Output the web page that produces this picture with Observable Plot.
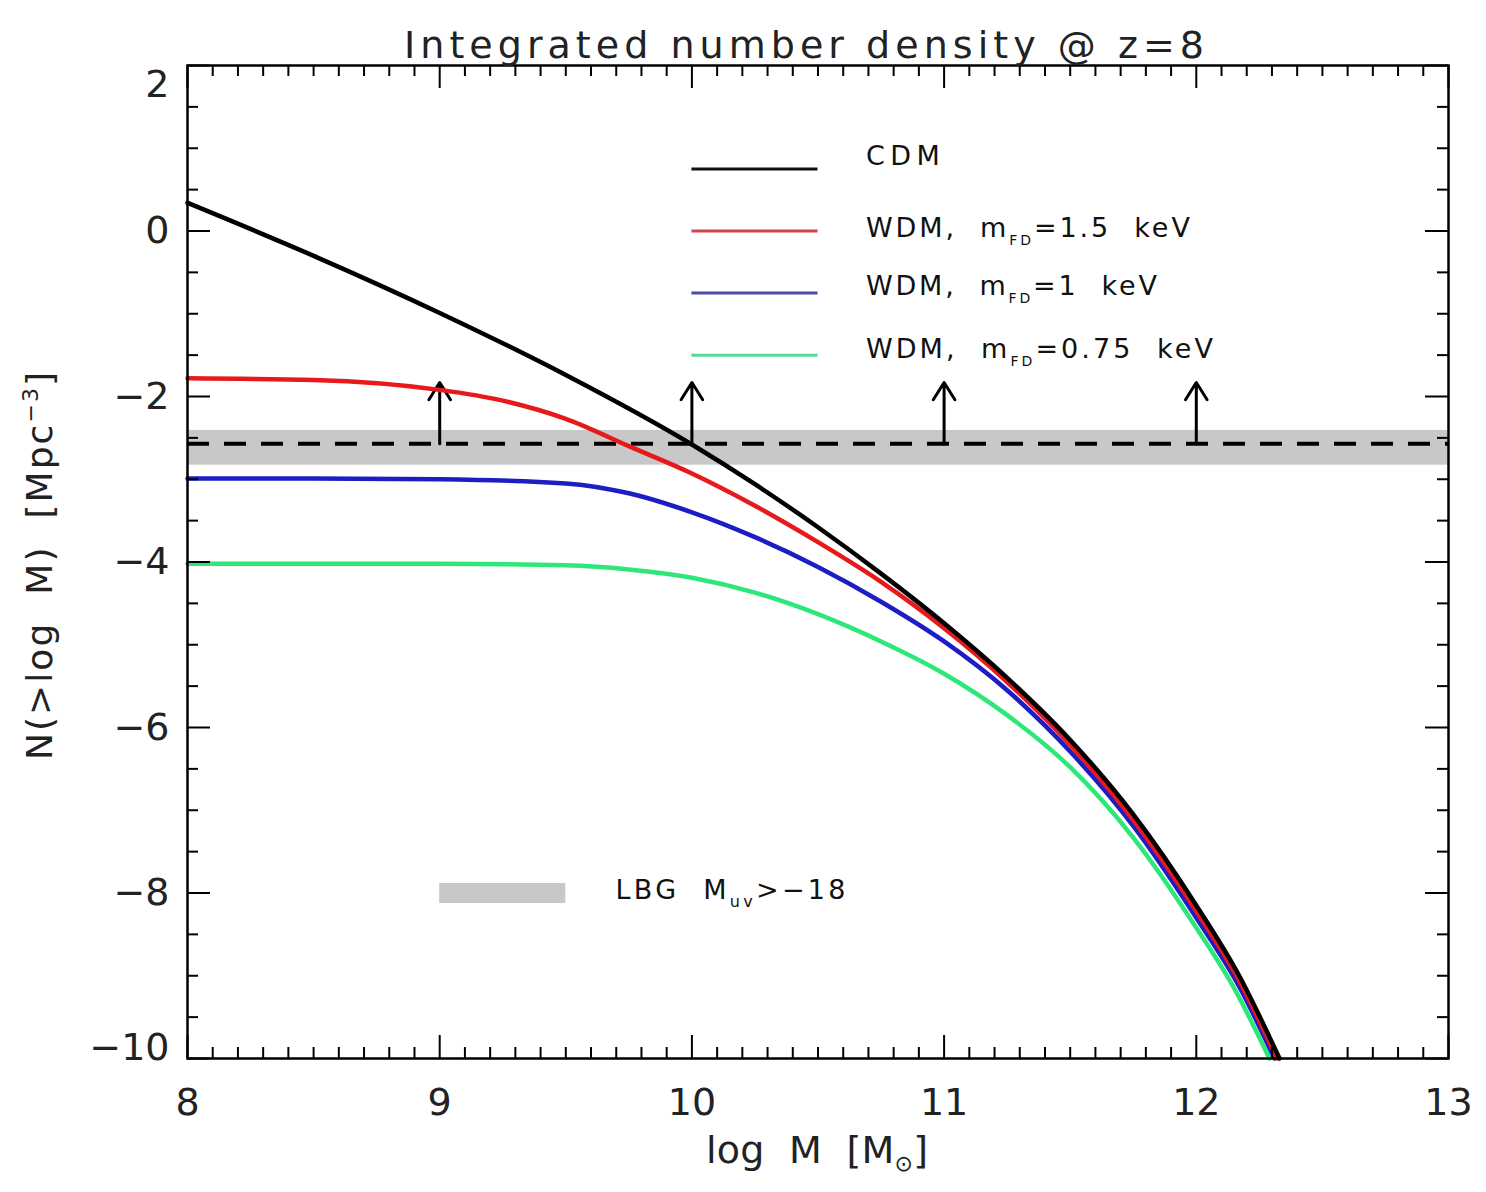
<!DOCTYPE html>
<html>
<head>
<meta charset="utf-8">
<script src="https://cdn.jsdelivr.net/npm/d3@7"></script>
<script src="https://cdn.jsdelivr.net/npm/@observablehq/plot@0.6"></script>
<style>
  body { margin: 0; background: #fff; }
  svg { display: block; }
</style>
</head>
<body>
<div id="chart"></div>
<script>
// ---------- data ----------
const cdmLogM = [8, 8.5, 9, 9.5, 10, 10.25, 10.5, 10.75, 11, 11.25, 11.5, 11.75, 12, 12.17, 12.33];
const cdmN    = [0.34, -0.30, -0.99, -1.74, -2.58, -3.06, -3.58, -4.14, -4.74, -5.40, -6.15, -7.05, -8.15, -9.00, -10];

const wdm15LogM = [8, 8.5, 9, 9.25, 9.5, 9.75, 10, 10.25, 10.5, 10.75, 11, 11.25, 11.5, 11.75, 12, 12.17, 12.32];
const wdm15N    = [-1.78, -1.80, -1.92, -2.05, -2.27, -2.60, -2.93, -3.32, -3.76, -4.24, -4.80, -5.45, -6.21, -7.12, -8.22, -9.06, -10];

const wdm1LogM = [8, 8.5, 9, 9.5, 9.75, 10, 10.25, 10.5, 10.75, 11, 11.25, 11.5, 11.75, 12, 12.17, 12.31];
const wdm1N    = [-2.99, -2.99, -3.00, -3.05, -3.17, -3.40, -3.70, -4.06, -4.48, -4.96, -5.55, -6.29, -7.19, -8.30, -9.13, -10];

const wdm075LogM = [8, 8.5, 9, 9.5, 9.75, 10, 10.25, 10.5, 10.75, 11, 11.25, 11.5, 11.75, 12, 12.15, 12.29];
const wdm075N    = [-4.02, -4.02, -4.02, -4.04, -4.09, -4.19, -4.37, -4.63, -4.96, -5.35, -5.85, -6.48, -7.33, -8.42, -9.15, -10];

const seriesNames  = ["CDM", "WDM, m_FD=1.5 keV", "WDM, m_FD=1 keV", "WDM, m_FD=0.75 keV"];
const seriesColors = ["#000000", "#e8191b", "#1d1dc4", "#2de879"];
const legendColors = ["#111111", "#d0454a", "#4a4aa8", "#58d890"];

const lbgLevel = [-2.57];          // dashed line
const lbgBandLow = [-2.83];
const lbgBandHigh = [-2.41];
const arrowLogM = [9, 10, 11, 12];
const arrowTip = -1.83;

const xTicks = [8, 9, 10, 11, 12, 13];
const yTicks = [-10, -8, -6, -4, -2, 0, 2];
const xDomain = [8, 13];
const yDomain = [-10, 2];

const titleText = "Integrated number density @ z=8";
const xLabelText = "log M [M⊙]";
const yLabelText = "N(>log M) [Mpc⁻³]";
const lbgLabel = "LBG M_uv>−18";

// ---------- layout ----------
const W = 1486, H = 1192;
const M = {top: 65, right: 38, bottom: 134, left: 187};
const frameW = W - M.left - M.right;
const frameH = H - M.top - M.bottom;

const rows = (xs, ys) => xs.map((x, i) => ({logM: x, N: ys[i]}));
const curves = [
  rows(cdmLogM, cdmN), rows(wdm15LogM, wdm15N), rows(wdm1LogM, wdm1N), rows(wdm075LogM, wdm075N)
];

const xMinor = d3.range(80, 131).filter(d => d % 10 !== 0).map(d => d / 10);
const yMinor = d3.range(-20, 5).filter(d => d % 4 !== 0).map(d => d / 2);
const fmt = d => d < 0 ? "\u2212" + Math.abs(d) : String(d);

// legend placement (data coordinates)
const legX1 = 10.0, legX2 = 10.5, legTextX = 10.69;
const legLineY = [0.75, 0.0, -0.75, -1.5];
const legTextY = [0.90, 0.03, -0.67, -1.43];

const majorLen = 23, minorLen = 11;
const tickStroke = {stroke: "black", strokeWidth: 2};
const axisOpts = {tickSize: 0, fontSize: 38, label: null, color: "#222", tickFormat: fmt};

const marks = [
  // LBG band + dashed line
  Plot.rect(lbgBandLow.map((lo, i) => ({lo, hi: lbgBandHigh[i]})),
    {x1: xDomain[0], x2: xDomain[1], y1: "lo", y2: "hi", fill: "#c8c8c8"}),
  Plot.ruleY(lbgLevel, {stroke: "black", strokeWidth: 4, strokeDasharray: "22,15"}),
  // arrows
  Plot.arrow(arrowLogM, {x: d => d, y1: lbgLevel[0], y2: arrowTip, stroke: "black",
    strokeWidth: 3, headLength: 30, headAngle: 64}),
  // curves (green first, black on top)
  ...[3, 2, 1, 0].map(i => Plot.line(curves[i], {x: "logM", y: "N", stroke: seriesColors[i],
    strokeWidth: 4.5, curve: "monotone-x"})),
  // legend
  ...seriesNames.map((n, i) => Plot.ruleY([legLineY[i]], {x1: legX1, x2: legX2,
    stroke: legendColors[i], strokeWidth: 3})),
  ...seriesNames.map((n, i) => Plot.text([n], {x: legTextX, y: legTextY[i], text: d => d,
    textAnchor: "start", fontSize: 27, fill: "#111"})),
  Plot.ruleY([-8.0], {x1: 9.0, x2: 9.5, stroke: "#c8c8c8", strokeWidth: 20}),
  Plot.text([lbgLabel], {x: 9.697, y: -7.97, text: d => d, textAnchor: "start", fontSize: 27, fill: "#111"}),
  // ticks (inward)
  Plot.tickX(xMinor, {x: d => d, insetTop: frameH - minorLen, ...tickStroke}),
  Plot.tickX(xTicks, {x: d => d, insetTop: frameH - majorLen, ...tickStroke}),
  Plot.tickX(xMinor, {x: d => d, insetBottom: frameH - minorLen, ...tickStroke}),
  Plot.tickX(xTicks, {x: d => d, insetBottom: frameH - majorLen, ...tickStroke}),
  Plot.tickY(yMinor, {y: d => d, insetRight: frameW - minorLen, ...tickStroke}),
  Plot.tickY(yTicks, {y: d => d, insetRight: frameW - majorLen, ...tickStroke}),
  Plot.tickY(yMinor, {y: d => d, insetLeft: frameW - minorLen, ...tickStroke}),
  Plot.tickY(yTicks, {y: d => d, insetLeft: frameW - majorLen, ...tickStroke}),
  Plot.frame({stroke: "black", strokeWidth: 2.5}),
  // axis labels
  Plot.axisX(xTicks, {...axisOpts, tickPadding: 30}),
  Plot.axisY(yTicks.slice(1, -1), {...axisOpts, tickPadding: 18}),
  Plot.axisY([yTicks[yTicks.length - 1]], {...axisOpts, tickPadding: 18, dy: 19}),
  Plot.axisY([yTicks[0]], {...axisOpts, tickPadding: 18, dy: -11}),
  // title and axis titles
  Plot.text([titleText], {frameAnchor: "top", text: d => d, dy: -34, dx: -14, fontSize: 38, fill: "#222"}),
  Plot.text([xLabelText], {frameAnchor: "bottom", text: d => d, dy: 104, dx: -1, fontSize: 38, fill: "#222"}),
  Plot.text([yLabelText], {frameAnchor: "left", text: d => d, rotate: -90, textAnchor: "middle",
    dx: -147, dy: 4, fontSize: 36, fill: "#222"})
];

const chart = Plot.plot({
  width: W, height: H,
  marginTop: M.top, marginRight: M.right, marginBottom: M.bottom, marginLeft: M.left,
  x: {domain: xDomain, axis: null},
  y: {domain: yDomain, axis: null},
  style: {fontFamily: "DejaVu Sans", background: "white"},
  marks
});
document.getElementById("chart").appendChild(chart);

// ---------- rich text: subscripts / superscripts, IDL-like wide spacing ----------
const svg = d3.select(chart);
function rich(content, parts, len, small) {
  svg.selectAll("text").filter(function () { return this.textContent === content; }).each(function () {
    const t = d3.select(this);
    t.text(null);
    let shift = 0;
    for (const [s, kind] of parts) {
      const target = kind === "sub" ? 8 : kind === "sup" ? -14 : 0;
      const ts = t.append("tspan").text(s).attr("dy", target - shift);
      if (kind) ts.attr("font-size", small);
      shift = target;
    }
    if (len) t.attr("textLength", len).attr("lengthAdjust", "spacing");
  });
}
rich("WDM, m_FD=1.5 keV", [["WDM,  m"], ["FD", "sub"], ["=1.5  keV"]], 324, 14);
rich("WDM, m_FD=1 keV", [["WDM,  m"], ["FD", "sub"], ["=1  keV"]], 291, 14);
rich("WDM, m_FD=0.75 keV", [["WDM,  m"], ["FD", "sub"], ["=0.75  keV"]], 347, 14);
rich("CDM", [["CDM"]], 74, 14);
rich(lbgLabel, [["LBG  M"], ["uv", "sub"], [">−18"]], 230, 16);
rich(titleText, [[titleText]], 800, 20);
rich(xLabelText, [["log  M  [M"], ["⊙", "sub"], ["]"]], 222, 22);
rich(yLabelText, [["N(>log  M)  [Mpc"], ["−3", "sup"], ["]"]], 388, 22);
</script>
</body>
</html>
